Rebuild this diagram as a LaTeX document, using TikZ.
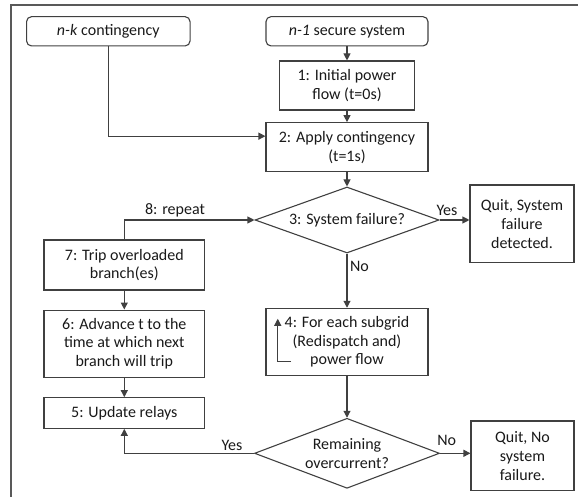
\documentclass[tikz,border=0pt]{standalone}
\usepackage{fontspec}
\setmainfont{Carlito}
\usetikzlibrary{arrows.meta,shapes.geometric,calc}
\begin{document}
\begin{tikzpicture}[x=1pt,y=-1pt,
  line width=1.1pt,
  every node/.style={font=\fontsize{16}{18.8}\selectfont, text=black!90},
  ln/.style={draw=black!75},
  boxn/.style={draw=black!75, rectangle, inner sep=0pt, align=center},
  rbox/.style={boxn, rounded corners=5pt},
  dia/.style={draw=black!75, diamond, inner sep=0pt},
  arr/.style={ln, -{Triangle[length=7pt,width=7pt]}},
  lab/.style={inner sep=0pt, align=center}
]
\useasboundingbox (0,0) rectangle (578,497);
\draw[draw=black!65, line width=1.4pt] (578,5) -- (10.8,5) -- (10.8,497);

\node[rbox, minimum width=163.5pt, minimum height=29.3pt] (nk) at (108.3,31.3) {\textit{n-k} contingency};
\node[rbox, minimum width=162pt, minimum height=29.3pt] (n1) at (347,31.3) {\textit{n-1} secure system};
\node[boxn, minimum width=135pt, minimum height=49pt] (b1) at (347,85.5) {1: Initial power\\flow (t=0s)};
\node[boxn, minimum width=162pt, minimum height=49pt] (b2) at (347,147.2) {2: Apply contingency\\(t=1s)};
\node[dia, minimum width=184pt, minimum height=66pt] (d3) at (347,220) {};
\node[lab] (d3t) at (d3.center) {3: System failure?};
\node[boxn, minimum width=104pt, minimum height=77.7pt] (q1) at (522,223.9) {Quit, System\\failure\\detected.};
\node[boxn, minimum width=160.6pt, minimum height=50pt] (b7) at (124.3,265) {7: Trip overloaded\\branch(es)};
\node[boxn, minimum width=160.6pt, minimum height=67.3pt] (b6) at (124.3,343.7) {6: Advance t to the\\time at which next\\branch will trip};
\node[boxn, minimum width=160.6pt, minimum height=30.6pt] (b5) at (124.3,413) {5: Update relays};
\node[boxn, minimum width=162pt, minimum height=67pt] (b4) at (347,341.8) {4: For each subgrid\\(Redispatch and)\\power flow};
\node[dia, minimum width=185pt, minimum height=70pt] (d2) at (347,453.3) {};
\node[lab] (d2t) at (d2.center) {Remaining\\overcurrent?};
\node[boxn, minimum width=103pt, minimum height=69.7pt] (q2) at (522.5,455.8) {Quit, No\\system\\failure.};

\coordinate (b2in) at ($(b2.north west)+(0,14)$);
\coordinate (l1) at ($(b4.north west)+(25.7,53.4)$);
\coordinate (l2) at ($(b4.north west)+(12.3,11)$);

\draw[arr] (n1.south) -- (b1.north);
\draw[arr] (b1.south) -- (b2.north);
\draw[arr] (nk.south) |- (b2in);
\draw[arr] (b2.south) -- (d3.north);
\draw[arr] (d3.east) -- (d3.east -| q1.west);
\draw[arr] (d3.south) -- (b4.north);
\draw[arr] (b4.south) -- (d2.north);
\draw[arr] (d2.east) -- (d2.east -| q2.west);
\draw[arr] (b7.north) |- (d3.west);
\draw[arr] (b7.south) -- (b6.north);
\draw[arr] (b6.south) -- (b5.north);
\draw[arr] (d2.west) -| (b5.south);
\draw[arr] (l1) -| (l2);

\node[lab] (yes1) at (447,210.7) {Yes};
\node[lab, anchor=west] (no1) at (349.5,266) {No};
\node[lab] (rep) at (175,210) {8: repeat};
\node[lab] (yes2) at (232,445) {Yes};
\node[lab] (no2) at (446.7,440.7) {No};
\end{tikzpicture}
\end{document}
